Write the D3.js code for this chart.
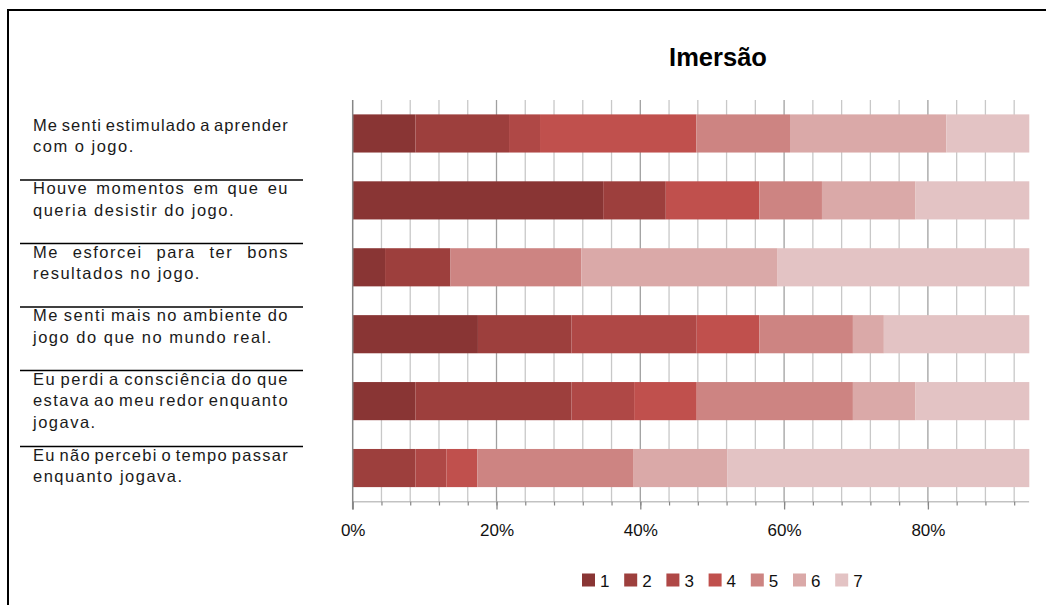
<!DOCTYPE html>
<html><head><meta charset="utf-8">
<script src="https://cdn.jsdelivr.net/npm/d3@7"></script>
<style>html,body{margin:0;padding:0;background:#fff;} svg{display:block;}</style>
</head><body>
<svg id="chart" width="1046" height="605"></svg>
<script>
// ---------- data ----------
const title = "Imersão";
const categories = ["Q1","Q2","Q3","Q4","Q5","Q6"];
const categoryLines = [
  ["Me senti estimulado a aprender", "com o jogo."],
  ["Houve momentos em que eu", "queria desistir do jogo."],
  ["Me esforcei para ter bons", "resultados no jogo."],
  ["Me senti mais no ambiente do", "jogo do que no mundo real."],
  ["Eu perdi a consciência do que", "estava ao meu redor enquanto", "jogava."],
  ["Eu não percebi o tempo passar", "enquanto jogava."]
];
const seriesNames = ["1","2","3","4","5","6","7"];
const s1 = [8.7, 34.8, 4.5, 17.4, 8.7, 0];
const s2 = [13.0, 8.7, 9.1, 13.0, 21.7, 8.7];
const s3 = [4.3, 0, 0, 17.4, 8.7, 4.3];
const s4 = [21.7, 13.0, 0, 8.7, 8.7, 4.3];
const s5 = [13.0, 8.7, 18.2, 13.0, 21.7, 21.7];
const s6 = [21.7, 13.0, 27.3, 4.3, 8.7, 13.0];
const s7 = [17.4, 21.7, 40.9, 26.1, 21.7, 47.8];
const tickValuesMajor = [0, 0.2, 0.4, 0.6, 0.8];
const colors = ["#893534","#9D3F3D","#AF4846","#C0504D","#CD8482","#DAA9A8","#E3C3C4"];

// ---------- build ----------
const seriesValues = [s1,s2,s3,s4,s5,s6,s7];
const rows = categories.map((c,i) => {
  const r = {cat: c};
  seriesNames.forEach((s,j) => r[s] = seriesValues[j][i]);
  return r;
});
const stacked = d3.stack().keys(seriesNames).offset(d3.stackOffsetExpand)(rows);

const svg = d3.select("#chart");
const W = 1046, H = 605;
svg.append("rect").attr("width", W).attr("height", H).attr("fill", "#fff");

// outer frame (extends past right/bottom edges)
svg.append("rect").attr("x", 8).attr("y", 10).attr("width", W + 20).attr("height", H + 20)
  .attr("fill", "none").attr("stroke", "#000").attr("stroke-width", 2);

const plotLeft = 352.7, plotTop = 100, plotBottom = 501.5, plotClipRight = 1029.3;
const x = d3.scaleLinear().domain([0, 1]).range([plotLeft, plotLeft + 719]);
const y = d3.scaleBand().domain(categories).range([plotTop, plotBottom]).paddingInner(0.43).paddingOuter(0.215);

const defs = svg.append("defs");
defs.append("clipPath").attr("id", "plotclip").append("rect")
  .attr("x", 0).attr("y", 0).attr("width", plotClipRight).attr("height", H);

const plot = svg.append("g").attr("clip-path", "url(#plotclip)");

// gridlines
const gridTicks = d3.range(1, 26).map(k => k * 0.04);
plot.append("g").selectAll("line").data(gridTicks).join("line")
  .attr("x1", d => x(d)).attr("x2", d => x(d))
  .attr("y1", plotTop).attr("y2", plotBottom)
  .attr("stroke", d => (Math.round(d * 100) % 20 === 0) ? "#A0A0A0" : "#C8C8C8")
  .attr("stroke-width", 1.3);

// bars
plot.append("g").selectAll("g").data(stacked).join("g")
  .attr("fill", (d, i) => colors[i])
  .selectAll("rect").data(d => d).join("rect")
  .attr("x", d => x(d[0]))
  .attr("width", d => Math.max(0, x(d[1]) - x(d[0])))
  .attr("y", d => y(d.data.cat))
  .attr("height", y.bandwidth());

// x axis: minor and major ticks
const axisG = svg.append("g").attr("clip-path", "url(#plotclip)")
  .attr("transform", `translate(0,${plotBottom})`);
const minorAxis = axisG.append("g").call(d3.axisBottom(x).tickValues(gridTicks).tickSize(4).tickFormat(""));
minorAxis.select(".domain").remove();
minorAxis.selectAll("line").attr("stroke", "#868686").attr("stroke-width", 1.2);
const majorAxis = axisG.append("g").call(d3.axisBottom(x).tickValues(tickValuesMajor).tickSize(8).tickPadding(14).tickFormat(d3.format(".0%")));
majorAxis.select(".domain").remove();
majorAxis.selectAll("line").attr("stroke", "#868686").attr("stroke-width", 1.3);
majorAxis.selectAll("text").attr("font-family", "'Liberation Sans', Arial, sans-serif")
  .attr("font-size", 17).attr("fill", "#111");
axisG.append("line").attr("x1", plotLeft).attr("x2", plotClipRight)
  .attr("y1", 0).attr("y2", 0).attr("stroke", "#868686").attr("stroke-width", 1.5);

// left axis line
svg.append("line").attr("x1", plotLeft).attr("x2", plotLeft)
  .attr("y1", plotTop).attr("y2", plotBottom + 8)
  .attr("stroke", "#868686").attr("stroke-width", 1.5);

// title
svg.append("text").attr("x", 718).attr("y", 66).attr("text-anchor", "middle")
  .attr("font-family", "'Liberation Sans', Arial, sans-serif").attr("font-weight", "bold")
  .attr("font-size", 25.5).attr("fill", "#000").text(title);

// category labels (justified, laid out as table rows)
const labelLeft = 33, labelWidth = 256, lineH = 21.5, minRowH = 63.5, rowPad = 11.5;
const baseLS = 1.5, minWS = -2.2;
const labG = svg.append("g").attr("font-family", "'Liberation Sans', Arial, sans-serif")
  .attr("font-size", 16.5).attr("fill", "#1a1a1a").attr("letter-spacing", baseLS);
let rowTop = plotTop + 16.5;
categories.forEach((c, i) => {
  const lines = categoryLines[i];
  const firstCenter = rowTop + 8.5;
  lines.forEach((ln, k) => {
    const t = labG.append("text").attr("x", labelLeft).attr("y", firstCenter + k * lineH + 5.8).text(ln);
    if (k < lines.length - 1) {
      const spaces = (ln.match(/ /g) || []).length;
      if (spaces > 0) {
        const w0 = t.node().getComputedTextLength();
        let ws = (labelWidth - w0) / spaces;
        if (ws < minWS) {
          ws = minWS;
          t.attr("word-spacing", ws);
          const w1 = t.node().getComputedTextLength();
          const ls = baseLS - (w1 - labelWidth) / ln.length;
          t.attr("letter-spacing", ls);
        } else {
          t.attr("word-spacing", ws);
        }
      }
    }
  });
  if (i > 0) {
    svg.append("line").attr("x1", 20).attr("x2", 303)
      .attr("y1", rowTop).attr("y2", rowTop)
      .attr("stroke", "#000").attr("stroke-width", 1.5);
  }
  rowTop += Math.max(minRowH, lines.length * lineH + rowPad);
});

// legend
const legG = svg.append("g").attr("font-family", "'Liberation Sans', Arial, sans-serif")
  .attr("font-size", 17).attr("fill", "#111");
seriesNames.forEach((s, i) => {
  const lx = 582 + i * 42.2;
  legG.append("rect").attr("x", lx).attr("y", 573.5).attr("width", 13).attr("height", 13).attr("fill", colors[i]);
  legG.append("text").attr("x", lx + 18).attr("y", 587).text(s);
});
</script>
</body></html>
